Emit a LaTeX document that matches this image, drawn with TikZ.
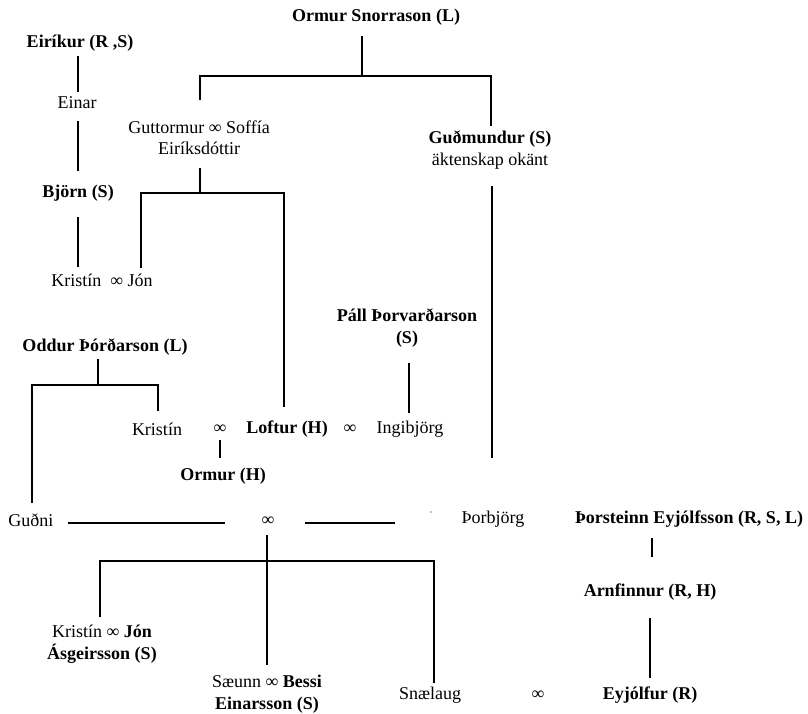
\documentclass[tikz,border=0pt]{standalone}
\usepackage{fontspec}
\setmainfont{Liberation Serif}
\begin{document}
\begin{tikzpicture}[x=1pt,y=-1pt,
  nm/.style={inner sep=1pt, align=center, font=\fontsize{18}{21.5}\selectfont},
  bnm/.style={nm, font=\fontsize{18}{21.5}\selectfont\bfseries},
  ln/.style={line width=1.3pt}]
\useasboundingbox (0,0) rectangle (808,714);
% people
\node[bnm] (ormS) at (376,17) {Ormur Snorrason (L)};
\node[bnm] (eirikur) at (80,43) {Eiríkur (R ,S)};
\node[nm] (einar) at (77,103) {Einar};
\node[nm] (gutt) at (199,138) {Guttormur ∞ Soffía\\Eiríksdóttir};
\node[nm] (gudm) at (490,150) {\textbf{Guðmundur (S)}\\äktenskap okänt};
\node[bnm] (bjorn) at (78,193) {Björn (S)};
\node[nm] (kj) at (102,280) {Kristín \ ∞ Jón};
\node[bnm] (oddur) at (105,347) {Oddur Þórðarson (L)};
\node[bnm] (pall) at (407,328) {Páll Þorvarðarson\\(S)};
\node[nm] (kristin2) at (157,429) {Kristín};
\node[nm] (inf1) at (220,429) {∞};
\node[bnm] (loftur) at (287,429) {Loftur (H)};
\node[nm] (inf2) at (350,429) {∞};
\node[nm] (ingi) at (410,429) {Ingibjörg};
\node[bnm] (ormH) at (223,476) {Ormur (H)};
\node[nm] (gudni) at (31,520) {Guðni};
\node[nm] (inf3) at (268,521) {∞};
\fill (431,512) circle (0.6);
\node[nm] (thorbj) at (493,519) {Þorbjörg};
\node[bnm] (thorst) at (689,519) {Þorsteinn Eyjólfsson (R, S, L)};
\node[bnm] (arnf) at (650,592) {Arnfinnur (R, H)};
\node[nm] (kja) at (102,644) {Kristín ∞ \textbf{Jón}\\\textbf{Ásgeirsson (S)}};
\node[nm] (saeunn) at (267,694) {Sæunn ∞ \textbf{Bessi}\\\textbf{Einarsson (S)}};
\node[nm] (snae) at (430,695) {Snælaug};
\node[nm] (inf4) at (538,695) {∞};
\node[bnm] (eyj) at (650,695) {Eyjólfur (R)};
% connector end points
\coordinate (a1) at (362,36); \coordinate (a2) at (362,76);
\coordinate (a3) at (200,100); \coordinate (a4) at (491,126);
\coordinate (b1) at (78,56); \coordinate (b2) at (78,92);
\coordinate (b3) at (78,121); \coordinate (b4) at (78,171);
\coordinate (c1) at (200,168); \coordinate (c2) at (200,193);
\coordinate (c3) at (141,268); \coordinate (c4) at (284,407);
\coordinate (d1) at (492,186); \coordinate (d2) at (492,458);
\coordinate (e1) at (78,217); \coordinate (e2) at (78,267);
\coordinate (f1) at (98,359); \coordinate (f2) at (98,385);
\coordinate (f3) at (32,503); \coordinate (f4) at (158,411);
\coordinate (g1) at (409,363); \coordinate (g2) at (409,413);
\coordinate (h1) at (220,440); \coordinate (h2) at (220,458);
\coordinate (i1) at (68,523); \coordinate (i2) at (225,523);
\coordinate (i3) at (305,523); \coordinate (i4) at (395,523);
\coordinate (j1) at (267,535); \coordinate (j2) at (267,665);
\coordinate (j3) at (100,617); \coordinate (j4) at (434,683);
\coordinate (jm) at (267,561);
\coordinate (k1) at (652,538); \coordinate (k2) at (652,557);
\coordinate (l1) at (650,618); \coordinate (l2) at (650,678);
% connectors
\draw[ln] (a1) -- (a2);
\draw[ln] (a3) |- (a2) -| (a4);
\draw[ln] (b1) -- (b2);
\draw[ln] (b3) -- (b4);
\draw[ln] (c1) -- (c2);
\draw[ln] (c3) |- (c2) -| (c4);
\draw[ln] (d1) -- (d2);
\draw[ln] (e1) -- (e2);
\draw[ln] (f1) -- (f2);
\draw[ln] (f3) |- (f2) -| (f4);
\draw[ln] (g1) -- (g2);
\draw[ln] (h1) -- (h2);
\draw[ln] (i1) -- (i2);
\draw[ln] (i3) -- (i4);
\draw[ln] (j1) -- (j2);
\draw[ln] (j3) |- (jm) -| (j4);
\draw[ln] (k1) -- (k2);
\draw[ln] (l1) -- (l2);
\end{tikzpicture}
\end{document}
